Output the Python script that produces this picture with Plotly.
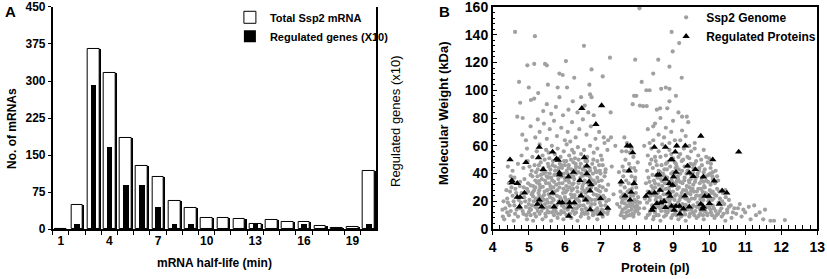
import plotly.graph_objects as go

# ---------------- Panel A data ----------------
half_life = list(range(1, 21))
total_mrna = [0, 48, 365, 317, 185, 128, 105, 57, 43, 23, 23, 20, 10, 19, 14, 15, 7, 3, 5, 117]
regulated_x10 = [0, 11, 292, 167, 89, 89, 45, 11, 11, 0, 0, 0, 11, 0, 0, 11, 0, 0, 0, 11]
a_tick_vals = [1, 4, 7, 10, 13, 16, 19]
a_y_ticks = [0, 75, 150, 225, 300, 375, 450]
b_y_ticks = [0, 20, 40, 60, 80, 100, 120, 140, 160]

# ---------------- Panel B data ----------------
reg_proteins = [
    (4.48, 50), (4.53, 35), (4.54, 33.5), (4.68, 33), (4.68, 23), (4.76, 23), (4.74, 16), (4.88, 26),
    (4.92, 48), (5.29, 59), (5.27, 51.5), (5.29, 21), (5.24, 18), (5.36, 16), (5.40, 43), (5.66, 55.6),
    (5.77, 50.6), (5.82, 49.6), (5.65, 26), (5.70, 16), (5.85, 40.5), (5.85, 39), (5.85, 19), (5.93, 19),
    (6.10, 37.6), (6.13, 16), (6.11, 9.4), (6.24, 41), (6.26, 19), (6.13, 19), (6.42, 35), (6.47, 87),
    (6.45, 24), (6.54, 51.5), (6.61, 45.5), (6.61, 40), (6.58, 21), (6.67, 34), (6.73, 32), (6.70, 27.6),
    (6.70, 14), (6.86, 75.5), (7.02, 89), (6.99, 22), (6.99, 11), (7.19, 15), (7.56, 34), (7.67, 24),
    (7.73, 60), (7.81, 60), (7.78, 42), (7.84, 26.6), (7.81, 21), (7.88, 55), (7.92, 33), (8.25, 23.7),
    (8.34, 26), (8.42, 13.7), (8.45, 15.6), (8.49, 26), (8.48, 59), (8.55, 18.5), (8.57, 39), (8.62, 39),
    (8.64, 28), (8.66, 19), (8.75, 20), (8.79, 15.6), (8.79, 59), (8.79, 36), (8.88, 26), (8.92, 23.7),
    (8.90, 33), (8.94, 50), (8.97, 50), (8.99, 31.6), (9.01, 37.6), (8.96, 16.5), (9.03, 13.7), (9.06, 55.6),
    (9.10, 60), (9.08, 41), (9.08, 16.5), (9.18, 16.5), (9.19, 11), (9.29, 14.6), (9.33, 24), (9.34, 60),
    (9.40, 45.5), (9.45, 40.5), (9.45, 16), (9.56, 38), (9.62, 43), (9.77, 67), (9.77, 18), (9.84, 37.6),
    (9.84, 16), (9.82, 14.6), (9.88, 23.7), (9.99, 23.7), (10.01, 18.5), (10.10, 50), (10.14, 34.8),
    (10.28, 18), (10.36, 27.6), (10.49, 26), (10.82, 55.6),
]

genome_acidic = [
    (4.32, 7), (4.45, 10), (4.58, 6), (4.7, 9), (4.85, 11), (4.95, 7), (5.05, 10), (5.12, 6), (5.2, 9), (5.3, 11),
    (5.38, 7), (5.47, 9), (5.55, 12), (5.62, 6), (5.7, 10), (5.8, 8), (5.88, 11), (5.96, 7), (6.05, 10), (6.18, 8),
    (6.27, 11), (6.35, 6), (6.44, 9), (6.55, 11), (6.66, 8), (6.78, 10), (6.9, 7), (7.05, 9), (7.18, 11), (4.4, 12),
    (5.0, 12), (5.75, 12.5), (6.5, 12), (6.95, 12.5),
    (4.35, 15), (4.42, 19), (4.5, 13), (4.6, 17), (4.66, 14), (4.78, 19), (4.83, 13), (4.92, 16), (5.0, 18), (5.06, 14),
    (5.14, 20), (5.18, 16), (5.25, 13), (5.33, 19), (5.4, 15), (5.45, 18), (5.52, 13), (5.58, 16), (5.63, 19), (5.7, 14),
    (5.77, 17), (5.83, 20), (5.9, 13), (5.97, 16), (6.02, 19), (6.08, 14), (6.15, 17), (6.22, 13), (6.28, 18), (6.33, 15),
    (6.4, 20), (6.47, 14), (6.52, 17), (6.6, 13), (6.64, 19), (6.71, 16), (6.76, 13), (6.83, 18), (6.9, 15), (6.97, 19),
    (7.03, 14), (7.12, 17), (7.2, 13), (5.22, 17.5), (5.5, 15.5), (6.0, 15), (6.38, 16.5), (6.85, 13.5), (5.02, 15), (5.93, 18.5),
    (4.4, 22), (4.48, 27), (4.55, 24), (4.63, 29), (4.72, 21), (4.8, 26), (4.87, 23), (4.95, 29), (5.02, 21), (5.08, 25),
    (5.15, 28), (5.2, 22), (5.27, 26), (5.32, 30), (5.37, 23), (5.44, 27), (5.5, 21), (5.55, 25), (5.6, 29), (5.66, 22),
    (5.72, 27), (5.78, 24), (5.85, 30), (5.9, 21), (5.95, 26), (6.0, 23), (6.06, 28), (6.12, 21), (6.17, 25), (6.23, 29),
    (6.3, 22), (6.35, 27), (6.41, 24), (6.48, 29), (6.53, 21), (6.58, 26), (6.63, 23), (6.69, 28), (6.74, 21), (6.8, 25),
    (6.86, 29), (6.92, 22), (6.98, 27), (7.06, 24), (7.14, 28), (7.22, 21), (5.12, 23.5), (5.42, 24.5), (5.68, 25.5),
    (6.02, 26.5), (6.27, 24.5), (6.55, 27.5), (6.88, 24.5), (7.1, 22.5),
    (4.45, 33), (4.6, 37), (4.75, 31), (4.88, 36), (4.98, 33), (5.05, 39), (5.12, 31), (5.18, 35), (5.24, 38), (5.3, 32),
    (5.36, 36), (5.42, 40), (5.48, 33), (5.54, 37), (5.6, 31), (5.65, 35), (5.71, 39), (5.76, 32), (5.82, 36), (5.88, 40),
    (5.93, 33), (5.99, 37), (6.04, 31), (6.1, 35), (6.16, 39), (6.21, 32), (6.26, 36), (6.32, 40), (6.38, 33), (6.43, 37),
    (6.49, 31), (6.55, 35), (6.6, 39), (6.66, 32), (6.72, 36), (6.78, 40), (6.84, 33), (6.9, 37), (6.96, 31), (7.02, 35),
    (7.1, 38), (7.2, 32), (5.28, 34.5), (5.7, 34), (6.12, 33.5), (6.5, 38.5), (6.93, 34.5),
    (4.55, 42), (4.7, 47), (4.85, 44), (4.97, 49), (5.08, 42), (5.16, 46), (5.25, 43), (5.33, 48), (5.4, 44), (5.47, 41),
    (5.53, 47), (5.6, 43), (5.67, 49), (5.73, 45), (5.8, 42), (5.86, 47), (5.92, 44), (5.98, 49), (6.05, 42), (6.11, 46),
    (6.18, 43), (6.24, 48), (6.31, 45), (6.37, 41), (6.44, 47), (6.5, 43), (6.57, 49), (6.63, 45), (6.7, 42), (6.76, 47),
    (6.83, 44), (6.9, 49), (6.97, 42), (7.05, 46), (7.13, 43), (5.55, 45), (6.0, 46), (6.4, 44.5),
    (4.8, 53), (4.95, 58), (5.1, 52), (5.22, 56), (5.3, 61), (5.38, 53), (5.48, 57), (5.57, 51), (5.64, 60), (5.72, 54),
    (5.8, 58), (5.88, 52), (5.97, 56), (6.05, 61), (6.12, 53), (6.2, 57), (6.28, 51), (6.36, 59), (6.45, 54), (6.53, 57),
    (6.62, 52), (6.7, 60), (6.8, 55), (6.9, 58), (7.0, 53), (7.1, 62), (7.18, 57), (5.55, 55), (6.25, 55),
    (4.82, 68), (4.92, 64), (5.05, 74), (5.18, 66), (5.3, 70), (5.42, 76), (5.5, 65), (5.58, 72), (5.7, 78), (5.78, 67),
    (5.9, 73), (6.0, 64), (6.08, 70), (6.2, 77), (6.3, 66), (6.4, 72), (6.5, 79), (6.6, 68), (6.72, 74), (6.85, 65),
    (6.95, 70), (7.08, 66), (7.2, 64), (5.25, 79), (6.15, 63),
    (4.68, 81), (4.83, 80), (4.76, 91), (5.06, 93), (5.15, 94), (5.26, 98), (5.4, 85), (5.5, 90), (5.62, 83), (5.75, 88),
    (5.85, 95), (5.95, 82), (6.1, 86), (6.22, 92), (6.35, 84), (6.45, 95), (6.55, 89), (6.7, 97), (6.8, 82), (6.65, 84),
    (4.28, 9), (4.3, 20), (4.38, 28), (4.27, 14), (4.5, 38), (4.42, 45),
]

genome_acidic_core = [
    (5.03, 13.5), (5.09, 17), (5.16, 11), (5.23, 15), (5.29, 24), (5.35, 13), (5.41, 21), (5.46, 11), (5.53, 19),
    (5.59, 23), (5.64, 12), (5.69, 21), (5.74, 15), (5.81, 11), (5.86, 23), (5.92, 17), (5.98, 12), (6.03, 21),
    (6.09, 17), (6.14, 11), (6.2, 23), (6.25, 15), (6.31, 12), (6.36, 21), (6.42, 17), (6.47, 11), (6.53, 23),
    (6.58, 15), (6.63, 11), (6.68, 22), (6.74, 18), (6.79, 11), (6.84, 21), (6.89, 11), (6.94, 24), (7.0, 17),
    (7.08, 12), (7.15, 20),
    (4.98, 27), (5.05, 31.5), (5.11, 26.5), (5.18, 30), (5.23, 33.5), (5.29, 28), (5.34, 39), (5.39, 30.5),
    (5.45, 35), (5.51, 28), (5.56, 33), (5.62, 37), (5.68, 30), (5.73, 42), (5.79, 28), (5.84, 33), (5.9, 38),
    (5.96, 29), (6.01, 35), (6.07, 40), (6.13, 30), (6.19, 28), (6.24, 33), (6.29, 43), (6.34, 30), (6.4, 35),
    (6.46, 26), (6.52, 33), (6.57, 42), (6.62, 29), (6.68, 38), (6.73, 30), (6.8, 35), (6.86, 42), (6.92, 28),
    (6.99, 40), (7.05, 30), (7.12, 41),
    (5.02, 45), (5.1, 38), (5.2, 41), (5.28, 46), (5.37, 42), (5.44, 50), (5.5, 38), (5.58, 40), (5.66, 46),
    (5.75, 50), (5.83, 44), (5.9, 46), (5.97, 40), (6.04, 49), (6.1, 44), (6.17, 50), (6.23, 38), (6.3, 47),
    (6.38, 50), (6.46, 40), (6.55, 45), (6.62, 49), (6.69, 44), (6.79, 50), (6.88, 41), (6.95, 46), (7.03, 50),
    (4.9, 20), (4.86, 30), (4.76, 34), (4.65, 26), (4.58, 20), (4.52, 30), (4.47, 17), (4.93, 10), (4.62, 11),
    (4.75, 15),
]

genome_column = [
    (7.55, 10), (7.6, 14), (7.65, 8), (7.7, 12), (7.75, 17), (7.8, 10), (7.85, 14), (7.9, 9), (7.95, 13), (8.0, 17),
    (8.05, 11), (7.58, 19), (7.68, 22), (7.72, 16), (7.78, 20), (7.83, 24), (7.88, 18), (7.93, 21), (7.98, 15), (8.03, 23),
    (7.62, 25), (7.74, 27), (7.86, 29), (7.97, 26), (7.52, 16), (7.66, 18.5), (7.82, 16.5), (7.91, 11), (8.08, 19), (7.56, 23),
    (7.55, 32), (7.62, 38), (7.7, 35), (7.75, 42), (7.6, 45), (7.68, 50), (7.78, 47), (7.85, 38), (7.92, 44), (7.8, 55),
    (7.88, 32), (7.95, 37), (8.02, 48), (7.58, 56), (7.72, 62), (7.85, 58), (7.65, 66), (7.9, 52), (7.5, 41), (7.98, 30),
    (7.88, 90), (7.98, 96), (7.3, 45), (7.35, 25), (7.4, 60), (7.28, 66), (7.45, 18),
    (7.58, 12), (7.63, 9), (7.67, 15), (7.72, 9.5), (7.77, 13), (7.81, 19), (7.87, 11), (7.92, 16), (7.96, 19.5),
    (8.01, 13), (8.06, 15), (7.6, 21), (7.71, 24), (7.79, 28), (7.9, 24), (8.0, 20), (7.54, 27), (7.66, 30),
    (7.77, 33), (7.94, 35), (7.64, 42), (7.82, 44), (7.7, 56), (7.96, 42),
]

genome_basic = [
    (8.25, 8), (8.35, 11), (8.45, 7), (8.55, 10), (8.65, 6), (8.75, 9), (8.85, 12), (8.95, 8), (9.05, 11), (9.15, 7),
    (9.25, 10), (9.35, 6), (9.45, 9), (9.55, 12), (9.65, 8), (9.75, 11), (9.85, 7), (9.95, 10), (10.05, 12), (10.15, 8),
    (10.25, 11), (10.35, 9), (10.5, 12), (10.62, 8), (10.75, 11), (10.9, 9), (11.0, 12), (11.15, 7), (11.3, 10), (11.5, 7),
    (11.55, 14), (11.7, 6), (11.8, 6), (12.1, 6.5), (11.4, 12), (8.5, 12), (9.2, 12.5), (9.9, 12.5), (10.45, 6),
    (8.2, 15), (8.28, 19), (8.36, 13), (8.42, 17), (8.5, 14), (8.58, 19), (8.64, 15), (8.7, 18), (8.78, 13), (8.84, 16),
    (8.9, 20), (8.96, 14), (9.02, 17), (9.08, 13), (9.14, 19), (9.2, 15), (9.26, 18), (9.32, 13), (9.38, 16), (9.44, 20),
    (9.5, 14), (9.56, 17), (9.62, 13), (9.68, 19), (9.74, 15), (9.8, 18), (9.86, 13), (9.92, 16), (9.98, 20), (10.04, 14),
    (10.1, 17), (10.18, 13), (10.26, 19), (10.34, 15), (10.42, 18), (10.5, 14), (10.6, 17), (10.7, 15), (10.85, 18),
    (10.95, 14), (11.1, 16), (11.25, 17), (8.6, 16.5), (9.0, 15.5), (9.35, 17.5), (9.7, 16.5), (10.0, 15.5), (8.8, 19.5),
    (8.22, 22), (8.3, 27), (8.38, 24), (8.45, 29), (8.52, 21), (8.58, 26), (8.64, 23), (8.7, 28), (8.76, 21), (8.82, 25),
    (8.88, 29), (8.94, 22), (9.0, 27), (9.06, 24), (9.12, 29), (9.18, 21), (9.24, 26), (9.3, 23), (9.36, 28), (9.42, 21),
    (9.48, 25), (9.54, 29), (9.6, 22), (9.66, 27), (9.72, 24), (9.78, 29), (9.84, 21), (9.9, 26), (9.96, 23), (10.02, 28),
    (10.08, 21), (10.15, 25), (10.22, 29), (10.3, 22), (10.38, 26), (10.46, 23), (10.55, 21), (8.48, 24.5), (8.9, 25.5),
    (9.2, 23.5), (9.5, 27.5), (9.8, 24.5), (10.1, 27),
    (8.25, 33), (8.32, 37), (8.4, 31), (8.47, 35), (8.54, 39), (8.6, 32), (8.66, 36), (8.72, 40), (8.78, 33), (8.84, 37),
    (8.9, 31), (8.96, 35), (9.02, 39), (9.08, 32), (9.14, 36), (9.2, 40), (9.26, 33), (9.32, 37), (9.38, 31), (9.44, 35),
    (9.5, 39), (9.56, 32), (9.62, 36), (9.68, 40), (9.74, 33), (9.8, 37), (9.86, 31), (9.92, 35), (9.98, 39), (10.04, 32),
    (10.1, 36), (10.16, 33), (10.22, 38), (8.7, 34.5), (9.1, 34.5), (9.45, 33.5), (9.85, 34),
    (8.28, 42), (8.36, 47), (8.44, 44), (8.52, 49), (8.6, 42), (8.68, 46), (8.76, 43), (8.84, 48), (8.92, 45), (9.0, 41),
    (9.08, 47), (9.16, 43), (9.24, 49), (9.32, 45), (9.4, 42), (9.48, 47), (9.56, 44), (9.64, 49), (9.72, 42), (9.8, 46),
    (9.88, 43), (9.96, 48), (10.04, 44), (10.1, 41), (9.1, 45), (9.55, 46.5),
    (8.3, 53), (8.4, 58), (8.5, 52), (8.6, 56), (8.7, 61), (8.8, 53), (8.9, 57), (9.0, 51), (9.1, 60), (9.2, 54),
    (9.3, 58), (9.4, 52), (9.5, 56), (9.6, 62), (9.7, 53), (9.85, 57), (10.0, 51), (8.45, 64), (8.75, 66), (9.05, 64),
    (9.35, 67), (8.6, 68), (8.95, 70), (9.25, 71), (8.2, 60), (9.6, 58),
    (8.3, 72), (8.5, 76), (8.65, 80), (8.8, 73), (9.0, 78), (9.25, 81), (9.38, 81), (9.42, 77), (8.55, 86), (8.64, 87),
    (8.84, 87), (8.9, 92), (8.08, 89), (8.17, 88.5), (8.27, 88.6), (7.92, 96), (9.08, 96), (8.26, 100), (8.35, 100),
    (8.67, 101), (8.8, 102), (8.9, 101), (9.15, 84), (8.45, 74),
]

genome_basic_core = [
    (8.3, 10), (8.4, 13.5), (8.47, 9), (8.53, 16), (8.6, 10), (8.67, 13), (8.73, 16), (8.8, 10), (8.87, 14), (8.92, 18),
    (8.99, 10), (9.04, 15), (9.1, 10), (9.17, 17), (9.22, 9), (9.29, 15), (9.34, 10.5), (9.41, 14), (9.47, 11),
    (9.53, 15.5), (9.59, 10), (9.65, 16), (9.71, 9.5), (9.77, 13.5), (9.83, 10), (9.89, 15), (9.95, 11), (10.01, 17),
    (10.08, 10), (10.13, 15), (10.2, 10), (10.3, 13), (10.4, 11), (10.55, 16), (10.66, 12), (10.8, 15),
    (8.35, 21), (8.41, 26.5), (8.5, 30), (8.55, 23), (8.62, 28.5), (8.68, 21), (8.74, 25), (8.8, 29), (8.86, 22),
    (8.92, 27), (8.98, 31), (9.04, 21), (9.1, 25), (9.16, 30), (9.22, 23), (9.28, 28), (9.34, 22), (9.4, 26),
    (9.46, 30), (9.52, 22), (9.58, 27), (9.64, 24), (9.7, 29), (9.76, 21.5), (9.82, 27), (9.88, 30), (9.94, 25),
    (10.0, 22), (10.06, 26), (10.12, 22), (10.2, 24), (10.28, 27), (10.36, 20), (10.45, 28),
    (8.35, 34), (8.43, 39), (8.5, 33), (8.57, 37), (8.64, 41), (8.7, 31), (8.77, 38), (8.83, 43), (8.89, 34),
    (8.95, 40), (9.01, 33), (9.07, 44), (9.13, 38), (9.19, 34), (9.25, 42), (9.31, 35), (9.37, 40), (9.43, 45),
    (9.49, 36), (9.55, 41), (9.61, 34), (9.67, 38), (9.73, 44), (9.79, 35), (9.85, 41), (9.91, 38), (9.97, 34),
    (10.03, 40), (10.09, 38), (10.18, 42), (10.25, 35),
    (8.4, 50), (8.55, 46), (8.65, 52), (8.8, 47), (8.95, 54), (9.05, 48), (9.15, 52), (9.28, 50), (9.45, 51),
    (9.6, 47), (9.78, 50), (9.92, 52), (10.05, 47), (8.9, 62), (9.2, 64), (9.45, 60), (8.35, 62),
]

genome_sparse = [
    (4.62, 142), (5.17, 139), (6.53, 132), (8.07, 159), (8.96, 142), (9.17, 134), (8.99, 128), (7.25, 123.5),
    (4.96, 118), (5.15, 119), (5.45, 119), (5.5, 118), (5.85, 112), (5.94, 111), (6.03, 121), (6.74, 115),
    (7.05, 110), (6.26, 109), (7.95, 122), (8.59, 122), (9.24, 109), (8.45, 112), (8.9, 117), (8.13, 106),
    (4.73, 106), (5.0, 102), (5.53, 104), (5.8, 102), (6.06, 102), (6.68, 104), (6.74, 95), (7.27, 84),
]

genome = genome_acidic + genome_acidic_core + genome_column + genome_basic + genome_basic_core + genome_sparse
genome_pi = [p[0] for p in genome]
genome_mw = [p[1] for p in genome]
reg_pi = [p[0] for p in reg_proteins]
reg_mw = [p[1] for p in reg_proteins]

FONT = "Liberation Sans, Arial, sans-serif"

fig = go.Figure()

# Panel A bars: shadow, white total bars, black regulated bars
fig.add_trace(go.Bar(x=half_life, y=total_mrna, width=0.72, offset=-0.28,
                     marker=dict(color="black", line=dict(width=0)),
                     showlegend=False, hoverinfo="skip", xaxis="x", yaxis="y"))
fig.add_trace(go.Bar(x=half_life, y=total_mrna, width=0.72, offset=-0.35,
                     marker=dict(color="white", line=dict(color="black", width=1)),
                     name="<b>Total Ssp2 mRNA</b>", legend="legend", xaxis="x", yaxis="y"))
fig.add_trace(go.Bar(x=half_life, y=regulated_x10, width=0.35, offset=-0.18,
                     marker=dict(color="black", line=dict(width=0)),
                     name="<b>Regulated genes (X10)</b>", legend="legend", xaxis="x", yaxis="y"))

# Panel B scatter
fig.add_trace(go.Scatter(x=genome_pi, y=genome_mw, mode="markers",
                         marker=dict(color="#a0a0a0", size=4.2, line=dict(width=0)),
                         name="<b>Ssp2 Genome</b>", legend="legend2", xaxis="x2", yaxis="y2"))
fig.add_trace(go.Scatter(x=reg_pi, y=reg_mw, mode="markers",
                         marker=dict(color="black", symbol="triangle-up", size=6.5, line=dict(width=0)),
                         name="<b>Regulated Proteins</b>", legend="legend2", xaxis="x2", yaxis="y2"))

ydom = [0.179, 0.975]
fig.update_layout(
    template="none",
    width=827, height=279,
    margin=dict(l=0, r=0, t=0, b=0, autoexpand=False),
    paper_bgcolor="white", plot_bgcolor="white",
    font=dict(family=FONT, color="black"),
    barmode="overlay", bargap=0,
    xaxis=dict(domain=[0.0637, 0.4547], range=[0.5, 20.45], tickvals=a_tick_vals, automargin=False,
               ticks="", showline=True, linecolor="black", linewidth=1.5,
               tickfont=dict(size=12, weight="bold"), showgrid=False, zeroline=False,
               minor=dict(ticks="outside", tick0=0.5, dtick=1, ticklen=4, tickcolor="black", showgrid=False)),
    yaxis=dict(domain=ydom, range=[0, 450], tickvals=a_y_ticks, ticks="outside", ticklen=3, automargin=False,
               showline=True, linecolor="black", linewidth=1.5, mirror=True, tickcolor="black",
               ticklabeloverflow="allow",
               tickfont=dict(size=12, weight="bold"), showgrid=False, zeroline=False, anchor="x"),
    xaxis2=dict(domain=[0.5958, 0.9883], range=[4, 13], dtick=1, ticks="outside", ticklen=4, automargin=False,
                showline=True, linecolor="black", linewidth=1.5, mirror=True, tickcolor="black",
                ticklabeloverflow="allow",
                tickfont=dict(size=14, weight="bold"), showgrid=False, zeroline=False, anchor="y2",
                minor=dict(ticks="inside", dtick=0.2, ticklen=4, tickcolor="black", showgrid=False)),
    yaxis2=dict(domain=ydom, range=[0, 160], tickvals=b_y_ticks, ticks="inside", ticklen=5, automargin=False,
                showline=True, linecolor="black", linewidth=1.5, mirror=True, tickcolor="black",
                ticklabeloverflow="allow",
                tickfont=dict(size=14, weight="bold"), showgrid=False, zeroline=False, anchor="x2",
                minor=dict(ticks="inside", tick0=0, dtick=4, ticklen=3, tickcolor="black", showgrid=False)),
    legend=dict(x=0.278, y=0.99, xanchor="left", yanchor="top", bgcolor="rgba(0,0,0,0)",
                font=dict(size=11, family=FONT), tracegroupgap=2,
                traceorder="normal", itemwidth=30),
    legend2=dict(x=0.8055, y=0.99, xanchor="left", yanchor="top", bgcolor="rgba(0,0,0,0)",
                 font=dict(size=12, family=FONT), traceorder="normal", itemwidth=30),
    annotations=[
        dict(text="<b>A</b>", x=10 / 827, y=1 - 12 / 279, xref="paper", yref="paper",
             showarrow=False, font=dict(size=15), xanchor="center", yanchor="middle"),
        dict(text="<b>B</b>", x=444 / 827, y=1 - 12 / 279, xref="paper", yref="paper",
             showarrow=False, font=dict(size=15), xanchor="center", yanchor="middle"),
        dict(text="<b>No. of mRNAs</b>", x=12 / 827, y=1 - 129 / 279, xref="paper", yref="paper",
             showarrow=False, textangle=-90, font=dict(size=12), xanchor="center", yanchor="middle"),
        dict(text="Regulated genes (x10)", x=395 / 827, y=1 - 121 / 279, xref="paper", yref="paper",
             showarrow=False, textangle=-90, font=dict(size=13), xanchor="center", yanchor="middle"),
        dict(text="<b>mRNA half-life (min)</b>", x=214 / 827, y=1 - 263 / 279, xref="paper", yref="paper",
             showarrow=False, font=dict(size=12), xanchor="center", yanchor="middle"),
        dict(text="<b>Molecular Weight (kDa)</b>", x=444 / 827, y=1 - 113 / 279, xref="paper", yref="paper",
             showarrow=False, textangle=-90, font=dict(size=13), xanchor="center", yanchor="middle"),
        dict(text="<b>Protein (pI)</b>", x=655 / 827, y=1 - 267 / 279, xref="paper", yref="paper",
             showarrow=False, font=dict(size=13), xanchor="center", yanchor="middle"),
    ],
)

fig.write_html("out.html", config={"displayModeBar": False},
               post_script="document.body.style.margin='0';document.body.style.padding='0';")
